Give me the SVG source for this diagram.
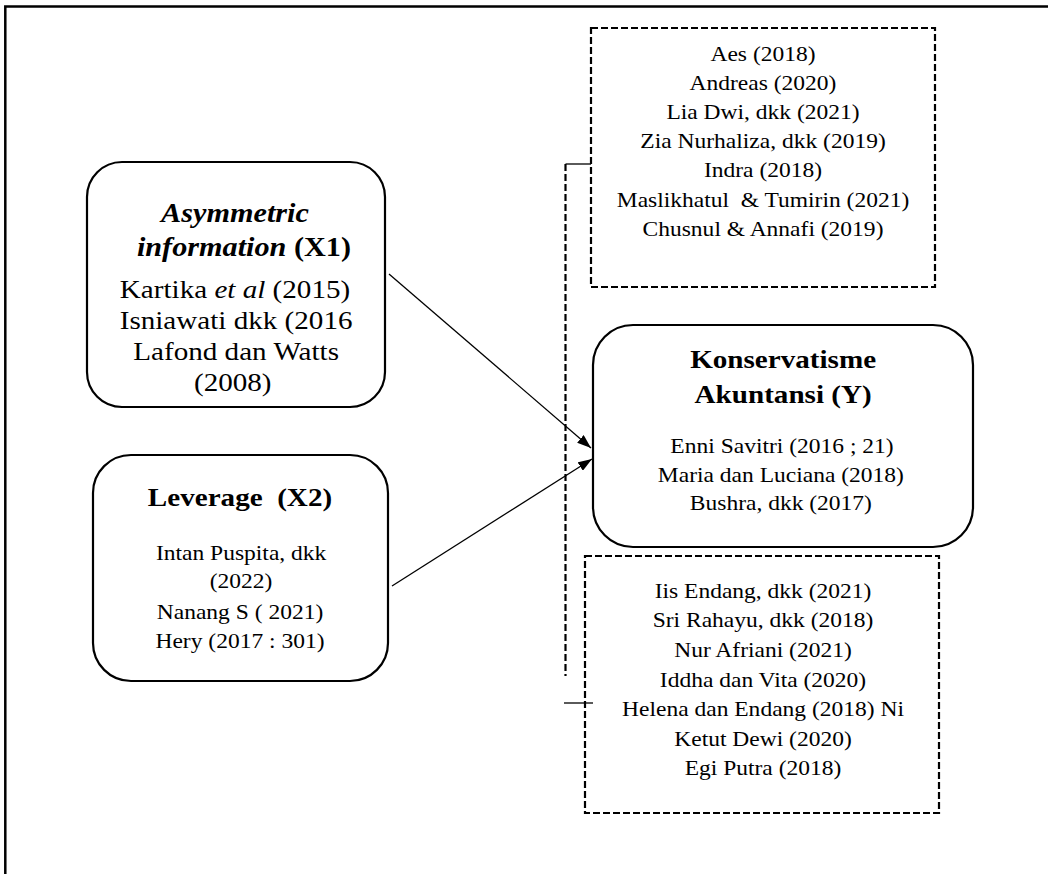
<svg xmlns="http://www.w3.org/2000/svg" width="1048" height="874" viewBox="0 0 1048 874">
<style>
text{fill:#000;text-anchor:middle}
.b{font-size:26px}
.bi{font-size:27px;font-weight:bold}
.h{font-size:26px;font-weight:bold}
.r{font-size:21px}
.node{fill:#fff;stroke:#000;stroke-width:2.2}
.dash{fill:none;stroke:#000;stroke-width:2.2;stroke-dasharray:7 3}
.ln{fill:none;stroke:#000;stroke-width:1.3}
</style>
<defs>
<marker id="ah" viewBox="0 0 14 10" refX="14" refY="5" markerWidth="14" markerHeight="10" markerUnits="userSpaceOnUse" orient="auto">
<path d="M0,0 L14,5 L0,10 z" fill="#000"/>
</marker>
</defs>
<g id="frame">
<path d="M5.3,874 V6.5 H1048" fill="none" stroke="#000" stroke-width="2.5"/>
</g>
<g id="connectors">
<path class="dash" d="M565.5,164 V676"/>
<path class="ln" d="M565.5,164 H591"/>
<path class="ln" d="M564,703 H593"/>
<line class="ln" x1="389" y1="274" x2="591" y2="448" marker-end="url(#ah)"/>
<line class="ln" x1="392" y1="586" x2="592" y2="459" marker-end="url(#ah)"/>
</g>
<g id="refs-top">
<rect class="dash" x="591" y="28" width="344" height="259"/>
<g transform="translate(763,0) scale(1.12,1)">
<text class="r" font-family="Liberation Serif" x="0" y="61">Aes (2018)</text>
<text class="r" font-family="Liberation Serif" x="0" y="90">Andreas (2020)</text>
<text class="r" font-family="Liberation Serif" x="0" y="119">Lia Dwi, dkk (2021)</text>
<text class="r" font-family="Liberation Serif" x="0" y="148">Zia Nurhaliza, dkk (2019)</text>
<text class="r" font-family="Liberation Serif" x="0" y="177">Indra (2018)</text>
<text class="r" font-family="Liberation Serif" x="0" y="207" xml:space="preserve">Maslikhatul  &amp; Tumirin (2021)</text>
<text class="r" font-family="Liberation Serif" x="0" y="236">Chusnul &amp; Annafi (2019)</text>
</g>
</g>
<g id="x1">
<rect class="node" x="87" y="162" width="298" height="245" rx="35" ry="35"/>
<g transform="translate(235,0) scale(1.12,1)">
<text class="bi" font-family="Liberation Serif" x="0" y="222" font-style="italic">Asymmetric</text>
<text class="bi" font-family="Liberation Serif" x="8" y="256" font-size="26"><tspan font-style="italic">information</tspan> (X1)</text>
<text class="b" font-family="Liberation Serif" x="0" y="298">Kartika <tspan font-style="italic">et al</tspan> (2015)</text>
<text class="b" font-family="Liberation Serif" x="1" y="329">Isniawati dkk (2016</text>
<text class="b" font-family="Liberation Serif" x="1" y="360">Lafond dan Watts</text>
<text class="b" font-family="Liberation Serif" x="-2" y="391">(2008)</text>
</g>
</g>
<g id="x2">
<rect class="node" x="93" y="455" width="295" height="226" rx="38" ry="38"/>
<g transform="translate(240,0) scale(1.12,1)">
<text class="h" font-family="Liberation Serif" x="0" y="506" xml:space="preserve">Leverage  (X2)</text>
<text class="r" font-family="Liberation Serif" x="1" y="560">Intan Puspita, dkk</text>
<text class="r" font-family="Liberation Serif" x="1" y="588">(2022)</text>
<text class="r" font-family="Liberation Serif" x="0" y="619">Nanang S ( 2021)</text>
<text class="r" font-family="Liberation Serif" x="0" y="648">Hery (2017 : 301)</text>
</g>
</g>
<g id="y">
<rect class="node" x="593" y="325" width="380" height="222" rx="40" ry="40"/>
<g transform="translate(782,0) scale(1.12,1)">
<text class="h" font-family="Liberation Serif" x="1" y="368">Konservatisme</text>
<text class="h" font-family="Liberation Serif" x="1" y="403">Akuntansi (Y)</text>
<text class="r" font-family="Liberation Serif" x="0" y="453">Enni Savitri (2016 ; 21)</text>
<text class="r" font-family="Liberation Serif" x="-1" y="482">Maria dan Luciana (2018)</text>
<text class="r" font-family="Liberation Serif" x="-1" y="510">Bushra, dkk (2017)</text>
</g>
</g>
<g id="refs-bottom">
<rect class="dash" x="585" y="556" width="354" height="257"/>
<g transform="translate(763,0) scale(1.12,1)">
<text class="r" font-family="Liberation Serif" x="0" y="598">Iis Endang, dkk (2021)</text>
<text class="r" font-family="Liberation Serif" x="0" y="627">Sri Rahayu, dkk (2018)</text>
<text class="r" font-family="Liberation Serif" x="0" y="657">Nur Afriani (2021)</text>
<text class="r" font-family="Liberation Serif" x="0" y="687">Iddha dan Vita (2020)</text>
<text class="r" font-family="Liberation Serif" x="0" y="716">Helena dan Endang (2018) Ni</text>
<text class="r" font-family="Liberation Serif" x="0" y="746">Ketut Dewi (2020)</text>
<text class="r" font-family="Liberation Serif" x="0" y="775">Egi Putra (2018)</text>
</g>
</g>
</svg>
